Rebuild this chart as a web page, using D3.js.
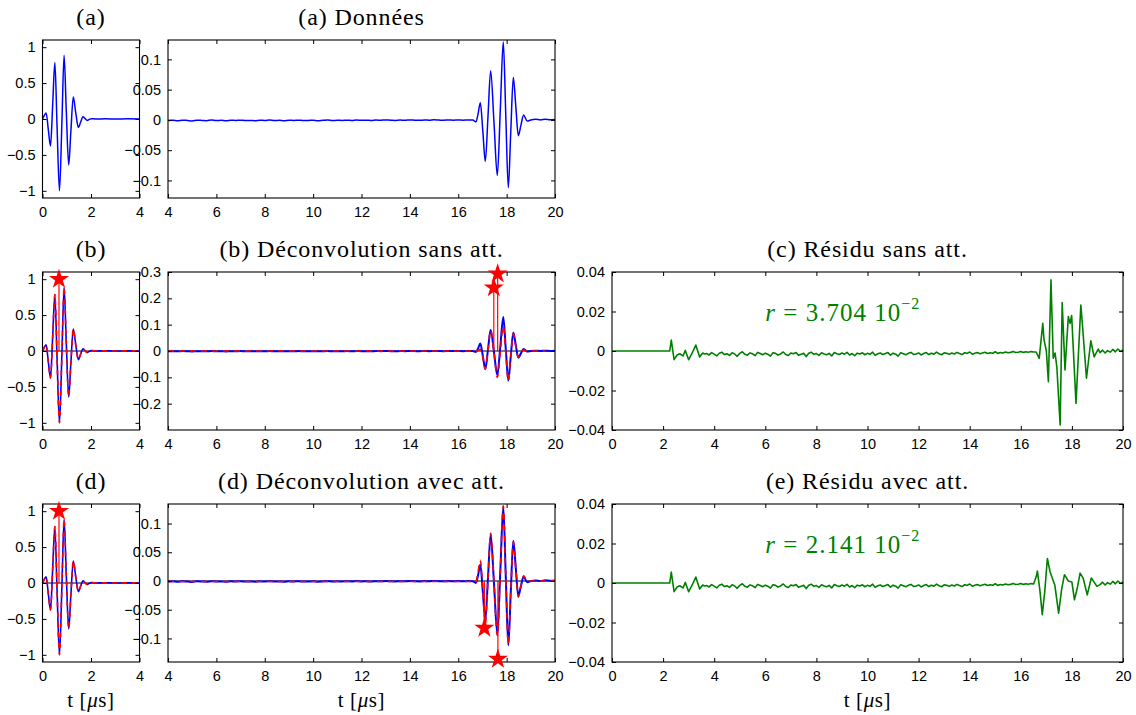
<!DOCTYPE html>
<html><head><meta charset="utf-8">
<script src="https://cdn.jsdelivr.net/npm/d3@7"></script>
<style>
html,body{margin:0;padding:0;background:#fff;}
svg{display:block;}
.tick text{font-family:"Liberation Sans",Arial,sans-serif;font-size:14.5px;fill:#000;}
.tick line{stroke:#000;}
.ttl{font-family:"Liberation Serif","Times New Roman",serif;font-size:24px;letter-spacing:0.9px;fill:#000;}
.ann{font-family:"Liberation Serif","Times New Roman",serif;font-size:25px;letter-spacing:1px;fill:#008000;}
</style></head><body><svg id="c" width="1136" height="715"></svg>
<script>
// ---------- tick values ----------
const smallXTicks=[0,2,4];
const largeXTicks=[4,6,8,10,12,14,16,18,20];
const resXTicks=[0,2,4,6,8,10,12,14,16,18,20];
const smallYTicks=[-1,-0.5,0,0.5,1];
const sigYTicks=[-0.1,-0.05,0,0.05,0.1];
const decYTicks=[-0.2,-0.1,0,0.1,0.2,0.3];
const resYTicks=[-0.04,-0.02,0,0.02,0.04];

// ---------- titles ----------
const titleSmallA="(a)", titleSig="(a) Données";
const titleSmallB="(b)", titleDecB="(b) Déconvolution sans att.", titleResC="(c) Résidu sans att.";
const titleSmallD="(d)", titleDecD="(d) Déconvolution avec att.", titleResE="(e) Résidu avec att.";
const annC=["3.704","−2"], annE=["2.141","−2"];

// ---------- reference wavelet (0..4 µs) ----------
const waveT=[0,0.03,0.15,0.24,0.33,0.42,0.51,0.60,0.70,0.80,0.89,0.98,1.08,1.17,1.27,1.37,1.48,1.57,1.67,1.76,1.84,1.93,2.02,2.2,2.6,3.0,3.5,4.0];
const waveV=[0,0.02,0.085,-0.15,-0.376,0.2,0.787,-0.1,-1.0,-0.05,0.886,0.12,-0.64,-0.17,0.306,0.09,-0.12,-0.045,0.03,0.005,-0.02,-0.005,0.005,0,0.003,0,0.002,0];

// ---------- measured signal (4..20 µs) ----------
const sigBaseT0=4.0, sigBaseDt=0.2;
const sigBase=[-0.0010,-0.0006,-0.0014,-0.0004,-0.0009,-0.0016,-0.0005,-0.0008,-0.0012,-0.0003,
-0.0010,-0.0007,-0.0015,-0.0006,-0.0009,-0.0004,-0.0011,-0.0008,-0.0013,-0.0005,
-0.0009,-0.0003,-0.0010,-0.0007,-0.0014,-0.0006,-0.0008,-0.0004,-0.0011,-0.0009,
-0.0005,-0.0012,-0.0007,-0.0003,-0.0010,-0.0006,-0.0009,-0.0004,-0.0008,-0.0002,
-0.0007,-0.0005,-0.0009,-0.0003,-0.0006,-0.0001,-0.0005,-0.0008,-0.0003,-0.0006,
0.0000,-0.0004,-0.0007,-0.0002,-0.0005,0.0001,-0.0003,-0.0006,-0.0001,-0.0004,
-0.0002,-0.0005,-0.0001,-0.0003];
const sigEventT=[16.73,16.82,16.912,17.015,17.118,17.23,17.339,17.48,17.614,17.74,17.862,17.965,18.069,18.17,18.276,18.38,18.483,18.59,18.703,18.85,19.0,19.2,19.4,19.6,19.8,20.0];
const sigEventV=[-0.0035,0.010,0.0285,-0.018,-0.0686,0.006,0.081,-0.006,-0.092,0.018,0.129,0.008,-0.112,-0.021,0.070,0.022,-0.026,-0.009,0.008,-0.002,0.0,0.001,0.0,0.0012,0.0004,0.0008];

// ---------- reconstructions ----------
const recBT=[4.0,16.6,16.73,16.82,16.912,17.015,17.118,17.23,17.339,17.48,17.614,17.74,17.862,17.965,18.069,18.17,18.276,18.38,18.483,18.59,18.703,18.85,19.0,19.6];
const recBV=[0,0,-0.001,0.002,0.006,-0.022,-0.069,0.004,0.078,-0.009,-0.100,-0.002,0.095,-0.006,-0.113,-0.024,0.065,0.018,-0.024,-0.006,0.004,-0.001,0,0];
const recDT=[4.0,16.6,16.73,16.82,16.912,17.015,17.118,17.23,17.339,17.48,17.614,17.74,17.862,17.965,18.069,18.17,18.276,18.38,18.483,18.59,18.703,18.85,19.0,20.0];
const recDV=[-0.001,-0.001,-0.002,0.016,0.036,-0.016,-0.075,0.004,0.083,-0.005,-0.095,0.018,0.131,0.008,-0.110,-0.020,0.068,0.021,-0.028,-0.009,0.009,-0.001,0,0];

// ---------- spikes (stars) ----------
const spikeSmallT=[0.68], spikeSmallV=[1.0];
const spikeBT=[17.47,17.63], spikeBV=[0.24,0.293];
const spikeDT=[17.08,17.64], spikeDV=[-0.082,-0.136];

// ---------- residuals ----------
const resStartT=[0,2.26,2.32,2.43,2.55,2.65,2.78,2.87,3.0,3.14,3.28,3.43,3.55,3.62];
const resStartV=[0,0,0.0055,-0.0044,-0.002,-0.0014,-0.0025,0.0003,-0.0044,-0.001,0.003,-0.003,-0.001,-0.0015];
const resBaseT0=3.7, resBaseDt=0.1;
const resBase=[-0.0013,-0.0020,-0.0008,-0.0016,-0.0025,-0.0011,-0.0006,-0.0018,-0.0014,-0.0022,
-0.0009,-0.0015,-0.0027,-0.0012,-0.0004,-0.0017,-0.0021,-0.0010,-0.0014,-0.0024,
-0.0007,-0.0013,-0.0019,-0.0011,-0.0016,-0.0026,-0.0009,-0.0012,-0.0020,-0.0015,
-0.0005,-0.0018,-0.0023,-0.0010,-0.0014,-0.0008,-0.0021,-0.0016,-0.0012,-0.0028,
-0.0011,-0.0006,-0.0017,-0.0013,-0.0022,-0.0009,-0.0015,-0.0019,-0.0012,-0.0025,
-0.0008,-0.0014,-0.0018,-0.0010,-0.0016,-0.0007,-0.0020,-0.0013,-0.0024,-0.0011,
-0.0015,-0.0009,-0.0019,-0.0012,-0.0017,-0.0006,-0.0022,-0.0014,-0.0010,-0.0018,
-0.0013,-0.0008,-0.0021,-0.0011,-0.0016,-0.0026,-0.0009,-0.0014,-0.0019,-0.0012,
-0.0007,-0.0017,-0.0015,-0.0010,-0.0020,-0.0013,-0.0008,-0.0018,-0.0011,-0.0016,
-0.0006,-0.0014,-0.0019,-0.0009,-0.0012,-0.0017,-0.0010,-0.0015,-0.0007,-0.0013,
-0.0018,-0.0009,-0.0012,-0.0005,-0.0016,-0.0011,-0.0008,-0.0014,-0.0010,-0.0006,
-0.0013,-0.0009,-0.0011,-0.0004,-0.0012,-0.0008,-0.0010,-0.0005,-0.0009,-0.0007,
-0.0003,-0.0008,-0.0006,-0.0002,-0.0007,-0.0004,-0.0006,-0.0003,-0.0005];
const resCEventT=[16.6,16.72,16.86,16.91,17.0,17.08,17.18,17.27,17.34,17.41,17.54,17.62,17.73,17.86,17.93,17.99,18.16,18.35,18.42,18.57,18.74,18.87,19.03];
const resCEventV=[-0.0005,-0.0037,0.014,0.0056,0.0,-0.0155,0.036,-0.0037,-0.001,-0.008,-0.0375,0.0245,-0.0096,0.0174,0.014,0.018,-0.0265,0.0233,0.012,-0.0138,0.0052,-0.003,0.001];
const resEEventT=[16.6,16.65,16.75,16.84,16.94,17.04,17.14,17.23,17.33,17.48,17.6,17.71,17.86,18.0,18.1,18.22,18.32,18.44,18.6,18.76,18.98];
const resEEventV=[0.003,0.006,-0.004,-0.016,-0.004,0.0124,0.006,0.0025,-0.001,-0.0153,-0.003,0.0042,0.001,0.0005,-0.0085,-0.002,0.005,0.0025,-0.006,0.0025,-0.0017];
const resTailT=[19.1,19.2,19.3,19.4,19.5,19.6,19.7,19.8,19.9,20.0];
const resTailV=[-0.0008,0.0004,-0.001,0.0002,-0.0006,0.0008,-0.0004,0.001,-0.0002,0.0006];

// ================= drawing =================
const svg=d3.select("#c");
const rowTop=[40,272,504], rowH=158;
const colSmall=[42.5,139.5], colLarge=[168,555], colRes=[612,1123];
const BLUE="#0000ff", RED="#ff0000", GREEN="#008000";
const fmt=v=>(v<0?"\u2212":"")+Math.abs(v);

const zip=(T,V)=>T.map((t,i)=>[t,V[i]]);
const sampled=(t0,dt,V)=>V.map((v,i)=>[t0+i*dt,v]);

const sigSeries=sampled(sigBaseT0,sigBaseDt,sigBase).concat(zip(sigEventT,sigEventV));
const waveSeries=zip(waveT,waveV);
const resC=zip(resStartT,resStartV).concat(sampled(resBaseT0,resBaseDt,resBase),zip(resCEventT,resCEventV),zip(resTailT,resTailV));
const resE=zip(resStartT,resStartV).concat(sampled(resBaseT0,resBaseDt,resBase),zip(resEEventT,resEEventV),zip(resTailT,resTailV));

function makePanel(col,top,xDom,yDom,xT,yT){
  const x=d3.scaleLinear().domain(xDom).range(col);
  const y=d3.scaleLinear().domain(yDom).range([top+rowH,top]);
  const g=svg.append("g");
  const content=g.append("g");
  const axes=g.append("g");
  const over=g.append("g");
  const ax=(axis,tr)=>{const a=axes.append("g").attr("transform",tr).call(axis);a.select(".domain").remove();a.attr("font-size",null).attr("font-family",null);return a;};
  ax(d3.axisBottom(x).tickValues(xT).tickSizeInner(-4).tickSizeOuter(0).tickPadding(9).tickFormat(fmt),`translate(0,${top+rowH})`);
  ax(d3.axisTop(x).tickValues(xT).tickSizeInner(-4).tickSizeOuter(0).tickFormat(""),`translate(0,${top})`);
  ax(d3.axisLeft(y).tickValues(yT).tickSizeInner(-4).tickSizeOuter(0).tickPadding(7).tickFormat(fmt),`translate(${col[0]},0)`);
  ax(d3.axisRight(y).tickValues(yT).tickSizeInner(-4).tickSizeOuter(0).tickFormat(""),`translate(${col[1]},0)`);
  axes.append("rect").attr("x",col[0]).attr("y",top).attr("width",col[1]-col[0]).attr("height",rowH)
    .attr("fill","none").attr("stroke","#000").attr("stroke-width",1.1);
  return {x,y,content,over,top,col};
}
function title(p,txt){
  svg.append("text").attr("class","ttl").attr("x",(p.col[0]+p.col[1])/2).attr("y",p.top-15)
    .attr("text-anchor","middle").text(txt);
}
function line(p,data,color,w,curve,dash){
  const gen=d3.line().x(d=>p.x(d[0])).y(d=>p.y(d[1])).curve(curve||d3.curveMonotoneX);
  const path=p.content.append("path").datum(data).attr("d",gen).attr("fill","none")
    .attr("stroke",color).attr("stroke-width",w).attr("stroke-linejoin","round");
  if(dash) path.attr("stroke-dasharray",dash);
}
function zeroLine(p){
  const d=p.x.domain();
  p.content.append("line").attr("x1",p.x(d[0])).attr("x2",p.x(d[1])).attr("y1",p.y(0)).attr("y2",p.y(0))
    .attr("stroke","#000").attr("stroke-width",1);
}
function spikes(p,T,V){
  const pts=zip(T,V);
  p.over.selectAll(".stem").data(pts).enter().append("line")
    .attr("x1",d=>p.x(d[0])).attr("x2",d=>p.x(d[0])).attr("y1",p.y(0)).attr("y2",d=>p.y(d[1]))
    .attr("stroke",RED).attr("stroke-width",1.2);
  const star=d3.symbol().type(d3.symbolStar).size(125);
  p.over.selectAll(".star").data(pts).enter().append("path").attr("d",star)
    .attr("transform",d=>`translate(${p.x(d[0])},${p.y(d[1])})`).attr("fill",RED);
}
function xlabel(p){
  const t=svg.append("text").attr("class","ttl").attr("x",(p.col[0]+p.col[1])/2).attr("y",p.top+rowH+45)
    .attr("text-anchor","middle").style("font-size","21px").style("letter-spacing","0.6px");
  t.append("tspan").text("t [");
  t.append("tspan").attr("font-style","italic").text("μ");
  t.append("tspan").text("s]");
}
function annotate(p,parts){
  const t=svg.append("text").attr("class","ann").attr("x",p.x(6)).attr("y",p.y(0.015));
  t.append("tspan").attr("font-style","italic").text("r");
  t.append("tspan").text(" = "+parts[0]+" 10");
  t.append("tspan").attr("dy",-12).style("font-size","16px").text(parts[1]);
}

// Row 1
const pA=makePanel(colSmall,rowTop[0],[0,4],[-1.1,1.1],smallXTicks,smallYTicks);
line(pA,waveSeries,BLUE,1.5);
title(pA,titleSmallA);
const pSig=makePanel(colLarge,rowTop[0],[4,20],[-0.129,0.132],largeXTicks,sigYTicks);
line(pSig,sigSeries,BLUE,1.5);
title(pSig,titleSig);

// Row 2
const pB=makePanel(colSmall,rowTop[1],[0,4],[-1.1,1.1],smallXTicks,smallYTicks);
zeroLine(pB);
line(pB,waveSeries,BLUE,1.6);
line(pB,waveSeries,RED,1.6,null,"5,5");
spikes(pB,spikeSmallT,spikeSmallV);
title(pB,titleSmallB);
const pDecB=makePanel(colLarge,rowTop[1],[4,20],[-0.3,0.3],largeXTicks,decYTicks);
zeroLine(pDecB);
line(pDecB,sigSeries,BLUE,2);
line(pDecB,zip(recBT,recBV),RED,1.6,null,"6,5");
spikes(pDecB,spikeBT,spikeBV);
title(pDecB,titleDecB);
const pResC=makePanel(colRes,rowTop[1],[0,20],[-0.04,0.04],resXTicks,resYTicks);
line(pResC,resC,GREEN,1.6,d3.curveLinear);
annotate(pResC,annC);
title(pResC,titleResC);

// Row 3
const pD=makePanel(colSmall,rowTop[2],[0,4],[-1.1,1.1],smallXTicks,smallYTicks);
zeroLine(pD);
line(pD,waveSeries,BLUE,1.6);
line(pD,waveSeries,RED,1.6,null,"5,5");
spikes(pD,spikeSmallT,spikeSmallV);
title(pD,titleSmallD);
xlabel(pD);
const pDecD=makePanel(colLarge,rowTop[2],[4,20],[-0.141,0.134],largeXTicks,sigYTicks);
zeroLine(pDecD);
line(pDecD,sigSeries,BLUE,2);
line(pDecD,zip(recDT,recDV),RED,1.6,null,"6,5");
spikes(pDecD,spikeDT,spikeDV);
title(pDecD,titleDecD);
xlabel(pDecD);
const pResE=makePanel(colRes,rowTop[2],[0,20],[-0.04,0.04],resXTicks,resYTicks);
line(pResE,resE,GREEN,1.6,d3.curveLinear);
annotate(pResE,annE);
title(pResE,titleResE);
xlabel(pResE);
</script></body></html>
